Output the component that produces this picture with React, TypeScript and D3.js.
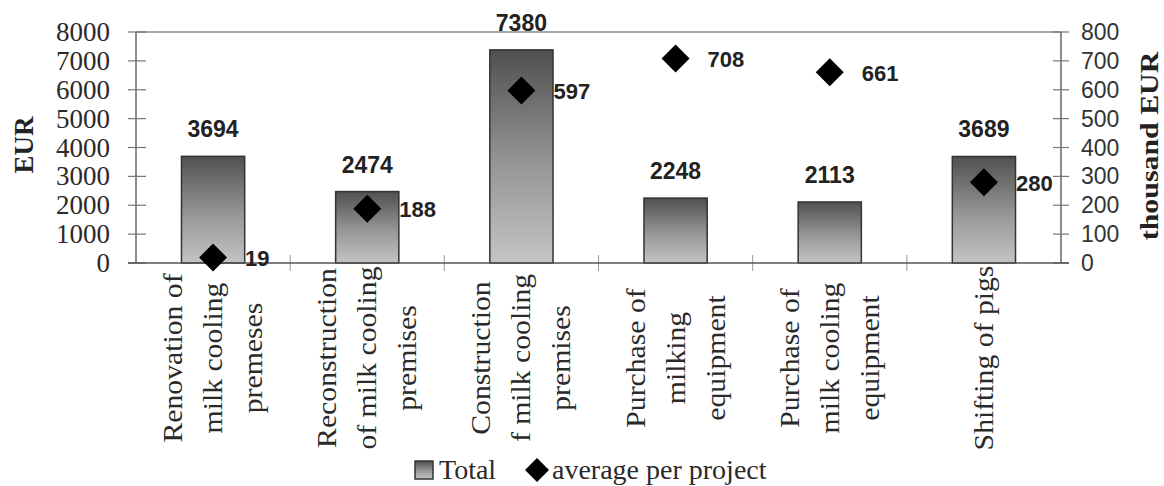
import React from "react";
import * as d3 from "d3";

const categories = [
  ["Renovation of", "milk cooling", "premeses"],
  ["Reconstruction", "of milk cooling", "premises"],
  ["Construction", "f milk cooling", "premises"],
  ["Purchase of", "milking", "equipment"],
  ["Purchase of", "milk cooling", "equipment"],
  ["Shifting of pigs"],
];
const totals = [3694, 2474, 7380, 2248, 2113, 3689];
const averages = [19, 188, 597, 708, 661, 280];
const leftTicks = [0, 1000, 2000, 3000, 4000, 5000, 6000, 7000, 8000];
const rightTicks = [0, 100, 200, 300, 400, 500, 600, 700, 800];

const W = 1164;
const H = 486;
const X0 = 136;
const X1 = 1061;
const YT = 32;
const YB = 263;

export default function App() {
  const idx = categories.map((_, i) => i);
  const x = d3.scaleBand<number>().domain(idx).range([X0, X1]).padding(0);
  const yL = d3.scaleLinear().domain([0, 8000]).range([YB, YT]);
  const yR = d3.scaleLinear().domain([0, 800]).range([YB, YT]);
  const bw = x.bandwidth() * 0.41;
  const serif = "'Liberation Serif', 'Times New Roman', serif";
  const sans = "'Liberation Sans', Arial, sans-serif";
  const diamond = (cx: number, cy: number, r: number) =>
    `M${cx},${cy - r}L${cx + r},${cy}L${cx},${cy + r}L${cx - r},${cy}Z`;

  return (
    <svg width={W} height={H} style={{ position: "absolute", left: 0, top: 0, background: "#fff" }}>
      <defs>
        <linearGradient id="barGrad" x1="0" y1="0" x2="0" y2="1">
          <stop offset="0%" stopColor="#505050" />
          <stop offset="55%" stopColor="#979797" />
          <stop offset="100%" stopColor="#c4c4c4" />
        </linearGradient>
      </defs>
      <rect x={0} y={0} width={W} height={H} fill="#fff" />
      {/* plot frame */}
      <line x1={X0} x2={X1} y1={YT} y2={YT} stroke="#8a8a8a" strokeWidth={1.5} />
      <line x1={X0} x2={X0} y1={YT} y2={YB} stroke="#666" strokeWidth={1.5} />
      <line x1={X1} x2={X1} y1={YT} y2={YB} stroke="#666" strokeWidth={1.5} />
      {/* left ticks */}
      {leftTicks.map((t) => (
        <g key={"l" + t}>
          <line x1={X0 - 8} x2={X0 + 10} y1={yL(t)} y2={yL(t)} stroke="#777" strokeWidth={1.2} />
          <text x={110} y={yL(t)} textAnchor="end" dominantBaseline="central" fontFamily={serif} fontSize={27} fill="#2a2a2a">
            {t}
          </text>
        </g>
      ))}
      {/* right ticks */}
      {rightTicks.map((t) => (
        <g key={"r" + t}>
          <line x1={X1 - 8} x2={X1 + 8} y1={yR(t)} y2={yR(t)} stroke="#777" strokeWidth={1.2} />
          <text x={1081} y={yR(t)} textAnchor="start" dominantBaseline="central" fontFamily={sans} fontSize={23} fill="#333">
            {t}
          </text>
        </g>
      ))}
      {/* category boundary ticks */}
      {idx.slice(1).map((i) => (
        <line key={"c" + i} x1={x(i)!} x2={x(i)!} y1={YB - 8} y2={YB + 8} stroke="#999" strokeWidth={1} />
      ))}
      {/* bars */}
      {totals.map((v, i) => {
        const cx = x(i)! + x.bandwidth() / 2;
        return (
          <rect key={"b" + i} x={cx - bw / 2} y={yL(v)} width={bw} height={YB - yL(v)} fill="url(#barGrad)" stroke="#333" strokeWidth={1.5} />
        );
      })}
      {/* bottom axis */}
      <line x1={X0 - 8} x2={X1 + 8} y1={YB} y2={YB} stroke="#555" strokeWidth={1.5} />
      {/* bar labels */}
      {totals.map((v, i) => {
        const cx = x(i)! + x.bandwidth() / 2;
        return (
          <text key={"bl" + i} x={cx} y={yL(v) - 19} textAnchor="middle" fontFamily={sans} fontWeight="bold" fontSize={23} fill="#222">
            {v}
          </text>
        );
      })}
      {/* diamonds */}
      {averages.map((v, i) => {
        const cx = x(i)! + x.bandwidth() / 2;
        return <path key={"d" + i} d={diamond(cx, yR(v), 14)} fill="#000" />;
      })}
      {averages.map((v, i) => {
        const cx = x(i)! + x.bandwidth() / 2;
        return (
          <text key={"dl" + i} x={cx + 32} y={yR(v) + 1} dominantBaseline="central" fontFamily={sans} fontWeight="bold" fontSize={22} fill="#222">
            {v}
          </text>
        );
      })}
      {/* category labels */}
      {categories.map((lines, i) => {
        const cx = x(i)! + x.bandwidth() / 2;
        const n = lines.length;
        const sp = 40;
        return (
          <g key={"cl" + i}>
            {lines.map((ln, j) => {
              const lx = cx + (j - (n - 1) / 2) * sp;
              return (
                <text
                  key={j}
                  transform={`translate(${lx + 9},${358}) rotate(-90) scale(1.1,1)`}
                  textAnchor="middle"
                  fontFamily={serif}
                  fontSize={27}
                  fill="#2a2a2a"
                >
                  {ln}
                </text>
              );
            })}
          </g>
        );
      })}
      {/* axis titles */}
      <text transform={`translate(33,145) rotate(-90)`} textAnchor="middle" fontFamily={serif} fontWeight="bold" fontSize={27} fill="#222">
        EUR
      </text>
      <text transform={`translate(1158,146) rotate(-90) scale(1.15,1)`} textAnchor="middle" fontFamily={serif} fontWeight="bold" fontSize={26} fill="#222">
        thousand EUR
      </text>
      {/* legend */}
      <rect x={415} y={461} width={18} height={18} fill="url(#barGrad)" stroke="#333" strokeWidth={1.5} />
      <text x={439} y={479} fontFamily={serif} fontSize={28} fill="#2a2a2a">
        Total
      </text>
      <path d={diamond(537, 470, 12)} fill="#000" />
      <text x={552} y={479} fontFamily={serif} fontSize={28} fill="#2a2a2a">
        average per project
      </text>
    </svg>
  );
}
